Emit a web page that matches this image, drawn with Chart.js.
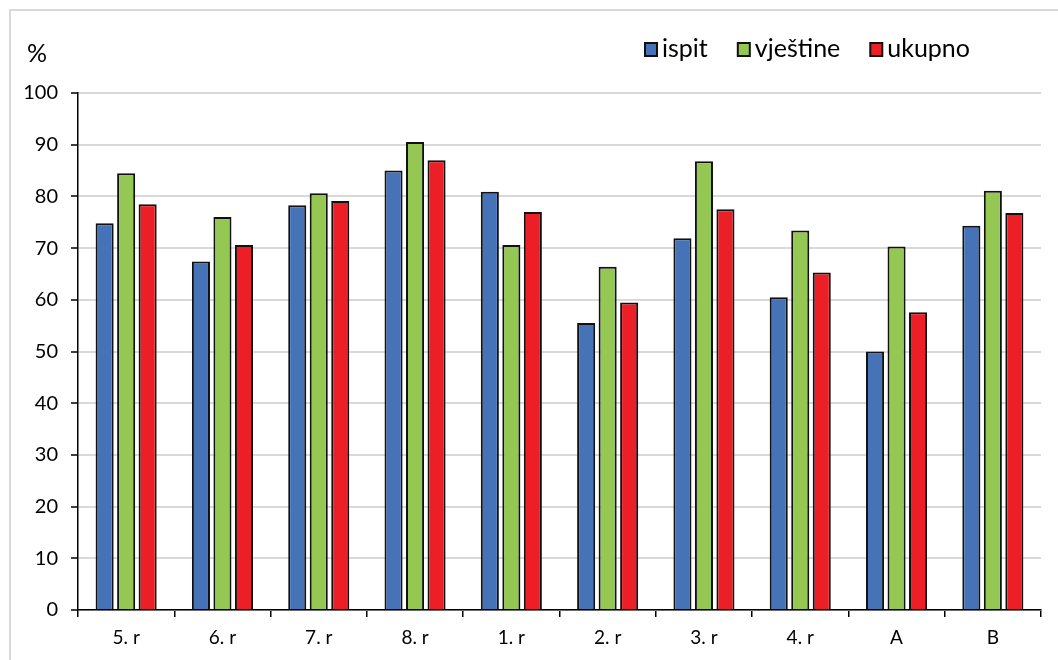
<!DOCTYPE html>
<html>
<head>
<meta charset="utf-8">
<script src="https://cdn.jsdelivr.net/npm/chart.js@4/dist/chart.umd.min.js"></script>
<style>
  html, body { margin: 0; padding: 0; background: #fff; }
  #frame { position: absolute; left: 9px; top: 9px; width: 1200px; height: 800px;
           border-left: 2px solid #d9d9d9; border-top: 2px solid #d9d9d9; }
  #wrap { position: absolute; left: 0; top: 0; width: 1058px; height: 660px; }
</style>
</head>
<body>
<div id="frame"></div>
<div id="wrap"><canvas id="chart"></canvas></div>
<script>
const categories = ['5. r', '6. r', '7. r', '8. r', '1. r', '2. r', '3. r', '4. r', 'A', 'B'];
const ispit = [74.8, 67.4, 78.3, 85.0, 80.9, 55.5, 71.9, 60.5, 50.0, 74.3];
const vjestine = [84.5, 76.0, 80.6, 90.5, 70.6, 66.4, 86.8, 73.4, 70.3, 81.1];
const ukupno = [78.5, 70.6, 79.1, 87.0, 77.0, 59.5, 77.5, 65.3, 57.6, 76.8];

const FONT = 'Lato, "Open Sans", sans-serif';

// "%" label and the legend drawn in the top area
const extras = {
  id: 'extras',
  afterDraw(chart) {
    const ctx = chart.ctx;
    ctx.save();
    ctx.fillStyle = '#000';
    ctx.textBaseline = 'middle';
    ctx.font = '25px ' + FONT;
    ctx.fillText('%', 27, 54);

    ctx.font = '25px ' + FONT;
    let x = 645;
    chart.data.datasets.forEach(ds => {
      ctx.fillStyle = ds.backgroundColor;
      ctx.fillRect(x, 43, 12, 13);
      ctx.strokeStyle = '#111';
      ctx.lineWidth = 2;
      ctx.strokeRect(x, 43, 12, 13);
      ctx.fillStyle = '#000';
      ctx.fillText(ds.label, x + 17, 49);
      x += 17 + ctx.measureText(ds.label).width + 30;
    });
    ctx.restore();
  }
};

const ctx = document.getElementById('chart');
new Chart(ctx, {
  type: 'bar',
  data: {
    labels: categories,
    datasets: [
      { label: 'ispit', data: ispit, backgroundColor: '#4672B8' },
      { label: 'vještine', data: vjestine, backgroundColor: '#94C853' },
      { label: 'ukupno', data: ukupno, backgroundColor: '#EC1F26' }
    ]
  },
  options: {
    responsive: true,
    maintainAspectRatio: false,
    animation: false,
    layout: { padding: { top: 93, right: 17, bottom: 10, left: 0 } },
    datasets: {
      bar: { categoryPercentage: 0.67, barPercentage: 0.84, borderWidth: 2, borderColor: '#111' }
    },
    plugins: { legend: { display: false }, tooltip: { enabled: false } },
    scales: {
      x: {
        grid: { drawOnChartArea: false, drawTicks: true, tickLength: 7, color: '#000', lineWidth: 1.5 },
        border: { color: '#000', width: 1.5 },
        ticks: { color: '#000', font: { family: FONT, size: 19 }, padding: 9 },
        afterFit: s => { s.height = 40; }
      },
      y: {
        min: 0, max: 100,
        ticks: { stepSize: 10, color: '#000', font: { family: FONT, size: 20 }, padding: 13 },
        grid: { color: '#d9d9d9', lineWidth: 2, tickColor: '#000', tickLength: 7, tickWidth: 1.5 },
        border: { color: '#000', width: 1.5 },
        afterFit: s => { s.width = 78; }
      }
    }
  },
  plugins: [extras]
});
</script>
</body>
</html>
